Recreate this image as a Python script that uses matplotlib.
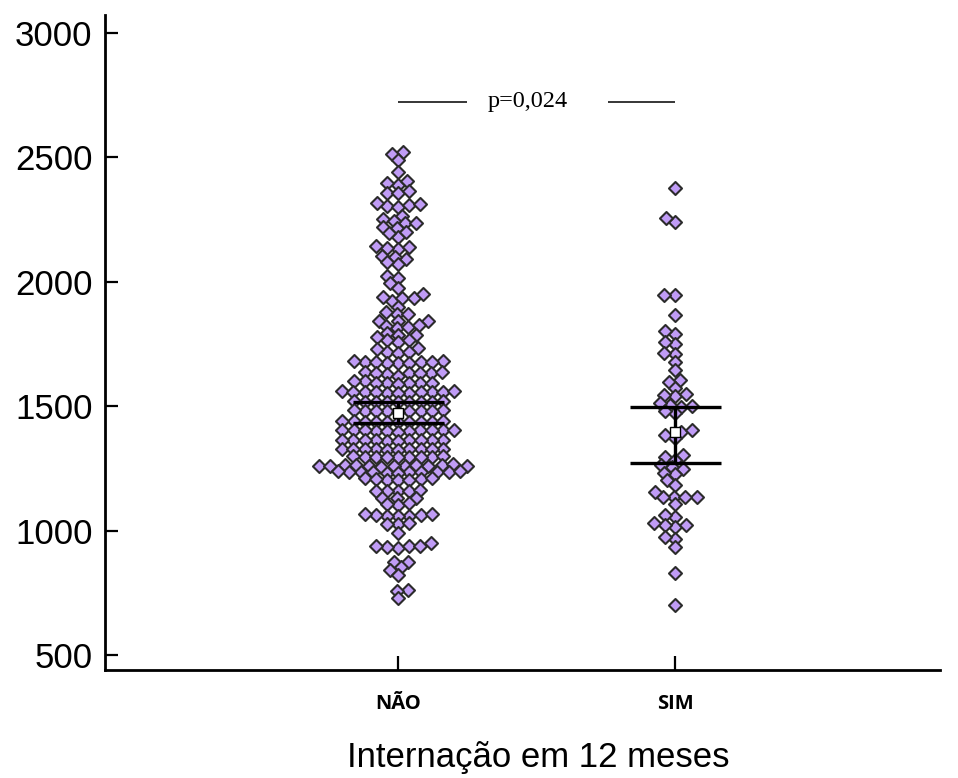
import numpy as np
import matplotlib
matplotlib.use("Agg")
import matplotlib.pyplot as plt

groups = ["NÃO", "SIM"]

# individual values, listed roughly from top to bottom of each cloud
nao = [
    2522, 2514, 2490, 2441, 2389, 2397, 2405, 2357, 2357, 2365,
    2305, 2300, 2308, 2312, 2316, 2252, 2264, 2236, 2244, 2216, 2220, 2236,
    2180, 2196, 2200, 2132, 2136, 2140, 2144, 2092, 2100, 2104, 2072, 2080,
    2015, 2023, 1995, 1975, 1923, 1935, 1935, 1939, 1951,
    1899, 1871, 1879, 1871, 1843, 1843, 1843, 1815, 1819, 1823, 1827,
    1787, 1795, 1787, 1758, 1766, 1766, 1778, 1718, 1714, 1734, 1718, 1730,
    1672, 1676, 1674, 1680, 1676, 1674, 1676, 1678, 1680,
    1628, 1634, 1636, 1632, 1632, 1632, 1636, 1622,
    1595, 1600, 1595, 1593, 1593, 1593, 1600, 1588,
    1555, 1557, 1560, 1558, 1556, 1557, 1559, 1560, 1556, 1555, 1552,
    1521, 1521, 1518, 1518, 1518, 1518, 1518, 1518, 1515,
    1481, 1484, 1481, 1481, 1484, 1481, 1481, 1481, 1478,
    1442, 1438, 1438, 1438, 1438, 1442, 1438, 1438, 1438, 1442,
    1404, 1400, 1406, 1404, 1404, 1400, 1404, 1406, 1404, 1400, 1398,
    1364, 1362, 1364, 1366, 1364, 1364, 1362, 1364, 1366, 1364,
    1328, 1330, 1328, 1326, 1328, 1328, 1330, 1328, 1326, 1328,
    1296, 1296, 1298, 1296, 1294, 1296, 1296, 1298, 1294,
    1260, 1262, 1258, 1264, 1256, 1260, 1262, 1258, 1260, 1260, 1262, 1258, 1266,
    1234, 1232, 1236, 1236, 1234, 1236, 1236, 1232, 1236, 1238, 1238,
    1203, 1203, 1207, 1210, 1212, 1207, 1205,
    1160, 1160, 1165, 1160, 1160, 1131, 1131, 1131, 1103, 1106, 1110,
    1059, 1059, 1059, 1062, 1062, 1066, 1066, 1027, 1027, 1030,
    990, 950, 930, 935, 938, 940, 940,
    874, 874, 852, 842, 822, 761, 757, 729,
]
sim = [
    2377, 2240, 2256, 1947, 1947, 1867, 1790, 1802, 1750, 1758,
    1710, 1714, 1678, 1645, 1605, 1597, 1573, 1541, 1545, 1549,
    1501, 1497, 1505, 1513, 1473, 1481, 1396, 1404, 1372, 1384,
    1296, 1304, 1284, 1256, 1264, 1248, 1227, 1231, 1203, 1183,
    1135, 1135, 1135, 1135, 1155, 1107, 1055, 1063,
    1014, 1022, 1022, 1030, 966, 974, 934, 830, 701,
]

# median with 95% confidence interval
medians = [1473, 1396]
ci_low = [1434, 1272]
ci_high = [1518, 1498]

p_text = "p=0,024"
p_level = 2724


def swarm(y_px, w, h):
    """Beeswarm x offsets (pixels); points collide inside a w x h ellipse."""
    xs = np.zeros(len(y_px))
    placed = []
    for i in np.argsort(y_px):
        y = y_px[i]
        near = [(px, py) for px, py in placed if abs(py - y) < h]
        cands = [0.0]
        for px, py in near:
            dx = w * np.sqrt(1 - ((py - y) / h) ** 2)
            cands += [px - dx, px + dx]
        cands.sort(key=abs)
        for c in cands:
            if all(((c - px) / w) ** 2 + ((y - py) / h) ** 2 >= 1 - 1e-6 for px, py in near):
                xs[i] = c
                break
        placed.append((xs[i], y))
    return xs


fig = plt.figure(figsize=(9.58, 7.78), dpi=100)
ax = fig.add_axes([0.1096, 0.1388, 0.9812 - 0.1096, 0.9807 - 0.1388])
ax.set_xlim(-1.058, 1.955)
ax.set_ylim(440, 3072)

x0 = ax.transData.transform([[0, 0]])[0]
x1 = ax.transData.transform([[1, 0]])[0]
px_per_x = x1[0] - x0[0]

for i, vals in enumerate([nao, sim]):
    vals = np.asarray(vals, float)
    ypx = ax.transData.transform(np.column_stack([np.full(len(vals), i), vals]))[:, 1]
    off = swarm(ypx, 11.2, 7.0) / px_per_x
    ax.scatter(i + off, vals, marker="D", s=44, facecolor="#c09cf6",
               edgecolor="#2b2b2b", linewidth=1.5, zorder=2)

hw = 0.164
for i in range(len(groups)):
    ax.hlines([ci_low[i], ci_high[i]], i - hw, i + hw, color="black", lw=2.4, zorder=3)
    ax.vlines(i, ci_low[i], ci_high[i], color="black", lw=2.4, zorder=3)
    ax.plot(i, medians[i], marker="s", ms=7.5, mfc="white", mec="black", mew=1.0, zorder=4)

# significance bracket between the two groups
ax.hlines(p_level, 0, 0.249, color="black", lw=1.1)
ax.hlines(p_level, 0.758, 1, color="black", lw=1.1)
ax.text(0.466, p_level, p_text, ha="center", va="center", fontsize=17.5,
        family="Liberation Serif")

ax.spines[["top", "right"]].set_visible(False)
for s in ["left", "bottom"]:
    ax.spines[s].set_linewidth(2)

ax.set_yticks([500, 1000, 1500, 2000, 2500, 3000])
ax.tick_params(axis="y", direction="in", length=9.5, width=1.6, pad=9, labelsize=25)
for lab in ax.get_yticklabels():
    lab.set_family("Liberation Sans")

ax.set_xticks(range(len(groups)))
ax.set_xticklabels(groups, fontsize=14.5, fontweight="bold", family="Open Sans")
ax.tick_params(axis="x", direction="in", length=10, width=1.6, pad=17)

ax.set_xlabel("Internação em 12 meses", fontsize=25, family="Liberation Sans",
              labelpad=20, x=0.519)

fig.savefig("out.png", dpi=100)
